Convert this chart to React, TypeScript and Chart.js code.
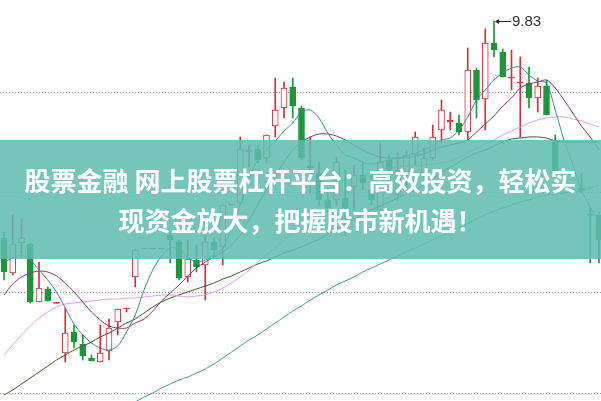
import React, { useEffect, useRef } from "react";
import { Chart, registerables } from "chart.js";

Chart.register(...registerables);

// ---- data (prices) ----
const OPEN = [8.745, 8.57, 8.72, 8.715, 8.425, 8.49, 8.418, 8.17, 8.275, 8.215, 8.145, 8.125, 8.18, 8.325, 8.39, 8.55, 8.69, 8.69, 8.69, 8.76, 8.725, 8.55, 8.635, 8.61, 8.725, 8.70, 8.91, 8.92, 9.175, 9.19, 9.145, 9.305, 9.395, 9.50, 9.395, 9.095, 9.07, 8.935, 8.935, 8.945, 9.00, 9.06, 8.985, 8.885, 9.135, 8.96, 9.075, 9.16, 9.07, 9.145, 9.285, 9.325, 9.32, 9.275, 9.585, 9.44, 9.72, 9.675, 9.545, 9.52, 9.52, 9.445, 9.505, 9.225, 9.07, 9.07, 8.995, 8.86, 8.86];
const HIGH = [8.775, 8.86, 8.84, 8.72, 8.625, 8.50, 8.422, 8.395, 8.31, 8.26, 8.16, 8.31, 8.34, 8.39, 8.395, 8.69, 8.69, 8.69, 8.69, 8.77, 8.735, 8.735, 8.71, 8.76, 8.745, 8.91, 8.91, 9.25, 9.21, 9.21, 9.26, 9.545, 9.525, 9.545, 9.405, 9.25, 9.125, 8.995, 9.15, 9.085, 9.11, 9.12, 9.075, 9.22, 9.16, 9.175, 9.185, 9.275, 9.195, 9.31, 9.435, 9.375, 9.36, 9.695, 9.595, 9.79, 9.83, 9.69, 9.685, 9.65, 9.60, 9.545, 9.535, 9.26, 9.07, 9.07, 9.07, 8.90, 8.875];
const LOW = [8.535, 8.56, 8.65, 8.42, 8.425, 8.43, 8.418, 8.125, 8.195, 8.135, 8.13, 8.125, 8.135, 8.26, 8.375, 8.50, 8.69, 8.69, 8.69, 8.62, 8.535, 8.525, 8.575, 8.435, 8.65, 8.61, 8.91, 8.91, 9.10, 9.12, 9.12, 9.25, 9.345, 9.345, 9.135, 8.97, 8.91, 8.875, 8.91, 8.76, 8.885, 8.985, 8.91, 8.875, 9.045, 8.935, 8.985, 9.11, 9.045, 9.135, 9.22, 9.285, 9.26, 9.235, 9.345, 9.285, 9.65, 9.55, 9.485, 9.25, 9.395, 9.375, 9.36, 9.055, 9.07, 9.07, 8.97, 8.62, 8.62];
const CLOSE = [8.575, 8.715, 8.745, 8.425, 8.495, 8.43, 8.422, 8.27, 8.225, 8.155, 8.13, 8.17, 8.295, 8.39, 8.395, 8.685, 8.69, 8.69, 8.69, 8.735, 8.545, 8.64, 8.60, 8.725, 8.685, 8.91, 8.91, 9.19, 9.185, 9.135, 9.26, 9.385, 9.495, 9.405, 9.145, 9.105, 8.935, 8.895, 9.125, 8.895, 9.06, 9.02, 8.935, 9.125, 9.085, 9.085, 9.16, 9.25, 9.145, 9.25, 9.385, 9.335, 9.275, 9.585, 9.435, 9.72, 9.685, 9.55, 9.55, 9.525, 9.445, 9.505, 9.36, 9.07, 9.07, 9.07, 8.98, 8.858, 8.735];

const MA5 = [8.625, 8.645, 8.66, 8.635, 8.585, 8.535, 8.475, 8.395, 8.315, 8.26, 8.22, 8.195, 8.185, 8.205, 8.275, 8.36, 8.485, 8.585, 8.655, 8.695, 8.69, 8.65, 8.625, 8.635, 8.66, 8.695, 8.795, 8.91, 9.045, 9.135, 9.185, 9.23, 9.28, 9.32, 9.375, 9.385, 9.345, 9.27, 9.21, 9.16, 9.145, 9.125, 9.115, 9.125, 9.135, 9.145, 9.155, 9.17, 9.185, 9.205, 9.235, 9.245, 9.285, 9.35, 9.435, 9.485, 9.535, 9.57, 9.595, 9.60, 9.56, 9.53, 9.52, 9.385, 9.235, 9.11, 8.985, 8.90, 8.825];
const MA10 = [8.46, 8.515, 8.55, 8.57, 8.58, 8.575, 8.555, 8.52, 8.475, 8.425, 8.375, 8.335, 8.305, 8.295, 8.295, 8.32, 8.34, 8.38, 8.43, 8.47, 8.51, 8.555, 8.595, 8.625, 8.65, 8.675, 8.71, 8.76, 8.835, 8.91, 8.985, 9.055, 9.125, 9.185, 9.225, 9.25, 9.265, 9.265, 9.255, 9.235, 9.21, 9.185, 9.165, 9.15, 9.145, 9.145, 9.145, 9.155, 9.165, 9.185, 9.20, 9.21, 9.22, 9.235, 9.275, 9.315, 9.355, 9.405, 9.445, 9.495, 9.515, 9.525, 9.535, 9.495, 9.435, 9.37, 9.305, 9.25, 9.185];
const MA20 = [8.16, 8.21, 8.26, 8.305, 8.345, 8.375, 8.40, 8.415, 8.42, 8.425, 8.43, 8.435, 8.44, 8.44, 8.445, 8.445, 8.45, 8.455, 8.46, 8.46, 8.455, 8.45, 8.455, 8.46, 8.475, 8.495, 8.52, 8.55, 8.585, 8.625, 8.66, 8.695, 8.735, 8.775, 8.815, 8.86, 8.90, 8.935, 8.965, 8.995, 9.025, 9.05, 9.07, 9.085, 9.095, 9.10, 9.105, 9.105, 9.11, 9.115, 9.12, 9.13, 9.145, 9.17, 9.195, 9.215, 9.235, 9.26, 9.28, 9.30, 9.32, 9.335, 9.345, 9.35, 9.35, 9.34, 9.33, 9.315, 9.30];
const MA30 = [7.96, 7.985, 8.015, 8.045, 8.075, 8.105, 8.135, 8.16, 8.185, 8.205, 8.225, 8.25, 8.27, 8.295, 8.32, 8.34, 8.37, 8.40, 8.425, 8.445, 8.46, 8.475, 8.49, 8.505, 8.52, 8.54, 8.555, 8.575, 8.595, 8.615, 8.63, 8.65, 8.67, 8.685, 8.70, 8.72, 8.74, 8.765, 8.79, 8.815, 8.84, 8.865, 8.885, 8.905, 8.925, 8.945, 8.965, 8.985, 9.01, 9.04, 9.075, 9.10, 9.125, 9.15, 9.17, 9.185, 9.205, 9.225, 9.24, 9.245, 9.25, 9.25, 9.245, 9.23, 9.225, 9.225, 9.225, 9.225, 9.225];
const MA60 = [null, null, null, null, null, null, null, null, null, null, null, null, null, null, null, 7.925, 7.95, 7.97, 7.995, 8.015, 8.035, 8.05, 8.07, 8.09, 8.115, 8.145, 8.175, 8.205, 8.235, 8.26, 8.29, 8.32, 8.35, 8.38, 8.405, 8.435, 8.46, 8.485, 8.51, 8.53, 8.55, 8.575, 8.595, 8.615, 8.635, 8.655, 8.675, 8.695, 8.715, 8.735, 8.755, 8.775, 8.795, 8.815, 8.84, 8.86, 8.88, 8.895, 8.91, 8.925, 8.935, 8.95, 8.96, 8.965, 8.97, 8.975, 8.98, 8.995, 9.01];

const GRID_PRICES = [7.97, 8.47, 8.97, 9.47];
const PEAK_INDEX = 56;
const PEAK_LABEL = "9.83";
const BANNER_LINE_1 = "股票金融 网上股票杠杆平台：高效投资，轻松实";
const BANNER_LINE_2 = "现资金放大，把握股市新机遇！";

// ---- styles ----
const RED = "rgb(214,44,62)";
const GREEN = "rgb(28,150,56)";
const FLAT = "rgb(90,90,90)";

function candleColor(i: number) {
  const o = OPEN[i], c = CLOSE[i];
  if (o === c && HIGH[i] === LOW[i]) return FLAT;
  return c >= o ? RED : GREEN;
}

export default function App() {
  const ref = useRef<HTMLCanvasElement | null>(null);

  useEffect(() => {
    if (!ref.current) return;
    const idx = OPEN.map((_, i) => i);
    const colors = idx.map(candleColor);
    const bodyFill = idx.map((i) => {
      const up = CLOSE[i] - OPEN[i];
      if (colors[i] === RED && up >= 0.012) return "#ffffff";
      return colors[i];
    });

    const line = (label: string, data: (number | null)[], color: string, order: number) => ({
      type: "line" as const,
      label,
      data: data.map((v, i) => ({ x: i, y: v })),
      borderColor: color,
      borderWidth: 1,
      pointRadius: 0,
      tension: 0.3,
      fill: false,
      spanGaps: false,
      order,
    });

    const peakPlugin = {
      id: "peakLabel",
      afterDatasetsDraw(chart: any) {
        const { ctx, scales } = chart;
        const px = scales.x.getPixelForValue(PEAK_INDEX);
        const py = Math.round(scales.y.getPixelForValue(HIGH[PEAK_INDEX])) + 0.5;
        ctx.save();
        ctx.strokeStyle = "#222";
        ctx.fillStyle = "#222";
        ctx.lineWidth = 1;
        ctx.beginPath();
        ctx.moveTo(px + 2, py);
        ctx.lineTo(px + 17, py);
        ctx.stroke();
        ctx.beginPath();
        ctx.moveTo(px + 1, py);
        ctx.lineTo(px + 5, py - 2.5);
        ctx.lineTo(px + 5, py + 2.5);
        ctx.closePath();
        ctx.fill();
        ctx.font = '15px "Liberation Sans", Arial, sans-serif';
        ctx.textBaseline = "middle";
        ctx.fillStyle = "#333";
        ctx.fillText(PEAK_LABEL, px + 18, py + 0.5);
        ctx.restore();
      },
    };

    const chart = new Chart(ref.current, {
      type: "bar",
      data: {
        datasets: [
          {
            type: "bar",
            label: "wick",
            data: idx.map((i) => ({ x: i, y: [LOW[i], HIGH[i]] })),
            backgroundColor: colors,
            borderWidth: 0,
            barThickness: 1,
            grouped: false,
            order: 11,
          } as any,
          {
            type: "bar",
            label: "body",
            data: idx.map((i) => ({ x: i, y: [OPEN[i], CLOSE[i]] })),
            backgroundColor: bodyFill,
            borderColor: colors,
            borderWidth: 1,
            borderSkipped: false,
            barThickness: 6,
            minBarLength: 1,
            grouped: false,
            order: 10,
          } as any,
          line("MA60", MA60, "rgb(72,150,160)", 5),
          line("MA30", MA30, "rgb(70,88,48)", 4),
          line("MA20", MA20, "rgb(228,156,228)", 3),
          line("MA10", MA10, "rgb(128,56,118)", 2),
          line("MA5", MA5, "rgb(56,140,150)", 1),
        ],
      },
      options: {
        animation: false,
        responsive: false,
        maintainAspectRatio: false,
        layout: { padding: 0 },
        plugins: {
          legend: { display: false },
          tooltip: { enabled: false },
          title: { display: false },
        },
        scales: {
          x: {
            type: "linear",
            min: -0.457,
            max: 68.229,
            offset: false,
            display: false,
            grid: { offset: false },
          },
          y: {
            type: "linear",
            min: 7.93,
            max: 9.935,
            display: true,
            ticks: { display: false },
            grid: { color: "rgb(150,150,150)", drawTicks: false, lineWidth: 1 },
            border: { display: false, dash: [1, 2] },
            afterBuildTicks: (s: any) => {
              s.ticks = GRID_PRICES.map((v) => ({ value: v }));
            },
          },
        },
      } as any,
      plugins: [peakPlugin],
    });
    return () => chart.destroy();
  }, []);

  return (
    <div style={{ position: "fixed", left: 0, top: 0, width: 601, height: 401, background: "#fff", overflow: "hidden" }}>
      <canvas ref={ref} width={601} height={401} style={{ display: "block", width: 601, height: 401 }} />
      <div
        style={{
          position: "absolute",
          left: 0,
          top: 140,
          width: 601,
          height: 119,
          background: "rgba(96,188,176,0.86)",
          display: "flex",
          alignItems: "center",
          justifyContent: "center",
          textAlign: "center",
          color: "#fff",
          fontFamily: '"Noto Sans CJK SC", sans-serif',
          fontWeight: 700,
          fontSize: 26,
          lineHeight: "40px",
          whiteSpace: "nowrap",
        }}
      >
        <div>
          {BANNER_LINE_1}
          <br />
          {BANNER_LINE_2}
        </div>
      </div>
    </div>
  );
}
